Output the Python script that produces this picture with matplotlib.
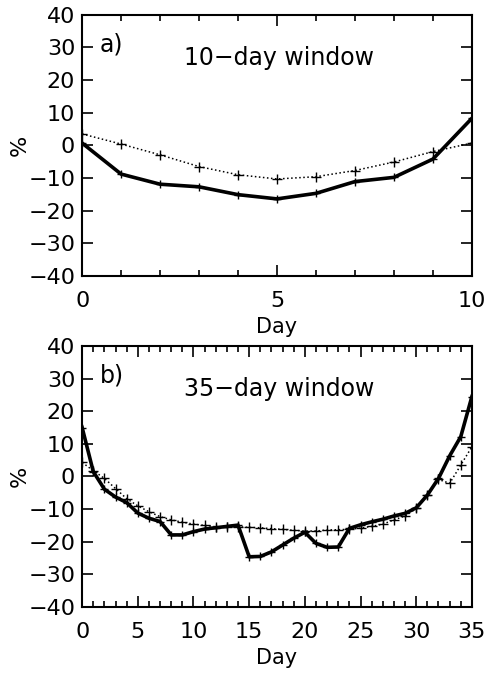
import matplotlib
matplotlib.use("Agg")
import matplotlib.pyplot as plt
from matplotlib.ticker import MultipleLocator

# panel a) 10-day window
days_a = list(range(0, 11))
solid_a = [0.7, -8.8, -11.9, -12.7, -15.1, -16.4, -14.7, -11.1, -9.8, -4.2, 8.3]
dotted_a = [3.5, 0.4, -2.9, -6.5, -9.0, -10.3, -9.6, -7.7, -5.1, -1.9, 0.7]

# panel b) 35-day window
days_b = list(range(0, 36))
solid_b = [15.0, 1.5, -3.9, -6.3, -8.0, -11.2, -12.8, -13.8, -17.9, -17.9,
           -16.9, -16.1, -15.7, -15.3, -14.9, -24.6, -24.5, -23.1, -21.0, -18.9,
           -17.1, -20.5, -21.7, -21.6, -15.9, -14.8, -13.9, -13.1, -12.1, -11.3,
           -9.6, -5.7, -0.6, 6.3, 12.2, 24.5]
dotted_b = [4.3, 1.8, -0.6, -3.7, -6.8, -9.0, -10.8, -12.3, -13.3, -14.0,
            -14.6, -15.0, -15.4, -15.6, -15.4, -15.6, -15.7, -16.0, -16.2, -16.5,
            -16.7, -16.7, -16.4, -16.3, -16.2, -15.8, -15.3, -14.6, -13.3, -12.1,
            -9.8, -5.8, -0.9, -2.1, 3.5, 9.1]

yticks = [-40, -30, -20, -10, 0, 10, 20, 30, 40]

plt.rcParams['font.family'] = ['DejaVu Sans']
fig = plt.figure(figsize=(4.86, 6.73), dpi=100)
ax_a = fig.add_axes([0.169, 0.590, 0.802, 0.388])
ax_b = fig.add_axes([0.169, 0.098, 0.802, 0.388])

panels = [
    (ax_a, days_a, solid_a, dotted_a, 'a)', '10\u2212day window', 10),
    (ax_b, days_b, solid_b, dotted_b, 'b)', '35\u2212day window', 35),
]

for ax, d, s, p, lab, title, xmax in panels:
    ax.plot(d, p, color='black', ls=':', lw=1.1, marker='+', ms=7, mew=1.0)
    ax.plot(d, s, color='black', ls='-', lw=2.6, marker='+', ms=6, mew=1.0)
    ax.set_xlim(0, xmax)
    ax.set_ylim(-40, 40)
    ax.set_yticks(yticks)
    ax.xaxis.set_major_locator(MultipleLocator(5))
    ax.xaxis.set_minor_locator(MultipleLocator(1))
    ax.tick_params(which='both', direction='in', top=True, right=True,
                   labelsize=16, width=1.2)
    ax.tick_params(which='major', length=8)
    ax.tick_params(which='minor', length=4)
    ax.tick_params(axis='x', pad=11)
    ax.tick_params(axis='y', pad=5)
    for sp in ax.spines.values():
        sp.set_linewidth(1.5)
    ax.set_xlabel('Day', fontsize=15, labelpad=4)
    ax.set_ylabel('%', fontsize=16)
    ax.yaxis.set_label_coords(-0.135, 0.5)
    ax.text(0.045, 0.885, lab, transform=ax.transAxes, fontsize=17,
            ha='left', va='center')
    ax.text(0.505, 0.835, title, transform=ax.transAxes, fontsize=17,
            ha='center', va='center')

fig.savefig('out.png', dpi=100)
